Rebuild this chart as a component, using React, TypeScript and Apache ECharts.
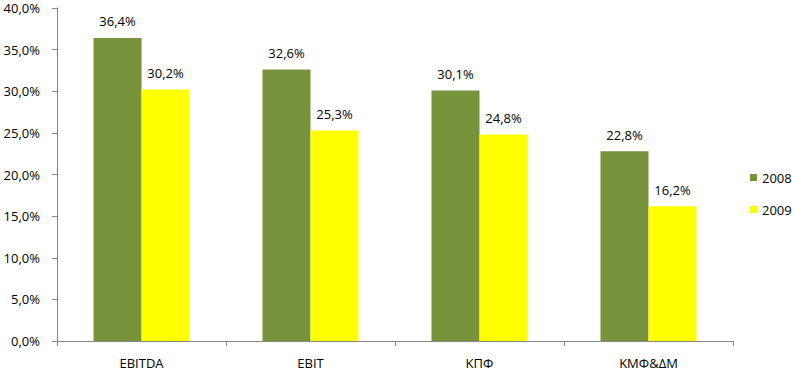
import React, { useEffect, useRef } from "react";
import * as echarts from "echarts";

const categories = ["EBITDA", "EBIT", "ΚΠΦ", "ΚΜΦ&ΔΜ"];
const values2008 = [36.4, 32.6, 30.1, 22.8];
const values2009 = [30.2, 25.3, 24.8, 16.2];
const seriesNames = ["2008", "2009"];

const fmt = (v: number) => v.toFixed(1).replace(".", ",") + "%";
const FONT = "'Open Sans', 'Noto Sans', sans-serif";

export default function App() {
  const ref = useRef<HTMLDivElement>(null);
  useEffect(() => {
    const chart = echarts.init(ref.current!, null, { renderer: "svg" });
    const label = {
      show: true,
      position: "top" as const,
      distance: 10,
      color: "#000",
      fontSize: 13,
      fontFamily: FONT,
      formatter: (p: any) => fmt(p.value),
    };
    chart.setOption({
      animation: false,
      backgroundColor: "#fff",
      grid: { left: 57, right: 60, top: 8, bottom: 33, containLabel: false },
      legend: {
        orient: "vertical",
        left: 745,
        top: 166,
        itemWidth: 7,
        itemHeight: 7,
        itemGap: 19,
        icon: "rect",
        textStyle: { color: "#000", fontSize: 13, fontFamily: FONT },
        data: seriesNames,
      },
      xAxis: {
        type: "category",
        data: categories,
        axisLine: { lineStyle: { color: "#868686" } },
        axisTick: { show: true, length: 5, alignWithLabel: false, lineStyle: { color: "#868686" } },
        axisLabel: { color: "#000", fontSize: 13, fontFamily: FONT, margin: 15 },
      },
      yAxis: {
        type: "value",
        min: 0,
        max: 40,
        interval: 5,
        axisLine: { show: true, lineStyle: { color: "#868686" } },
        axisTick: { show: true, length: 5, lineStyle: { color: "#868686" } },
        splitLine: { show: false },
        axisLabel: { color: "#000", fontSize: 13, lineHeight: 14, fontFamily: FONT, margin: 17, formatter: (v: number) => fmt(v) },
      },
      series: [
        {
          name: seriesNames[0],
          type: "bar",
          data: values2008,
          barWidth: 48,
          barGap: "0%",
          itemStyle: { color: "#77933C" },
          label,
        },
        {
          name: seriesNames[1],
          type: "bar",
          data: values2009,
          barWidth: 48,
          barGap: "0%",
          itemStyle: { color: "#FFFF00" },
          label,
        },
      ],
    });
    return () => chart.dispose();
  }, []);
  return <div ref={ref} style={{ width: 793, height: 374, position: "absolute", left: 0, top: 0 }} />;
}
